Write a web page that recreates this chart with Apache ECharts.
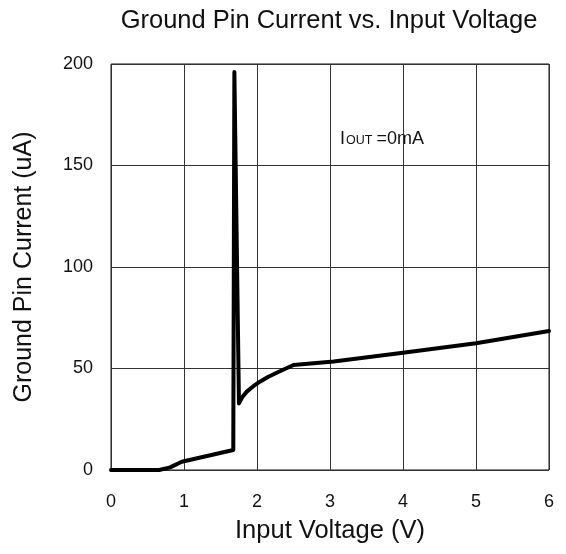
<!DOCTYPE html>
<html><head><meta charset="utf-8">
<script src="https://cdn.jsdelivr.net/npm/echarts@6/dist/echarts.min.js"></script>
<style>html,body{margin:0;padding:0;background:#fff}#c{width:566px;height:554px}</style>
</head><body><div id="c"></div>
<script>
const voltage = [0, 0.66, 0.81, 0.97, 1.675, 1.69, 1.753, 1.80, 1.86, 1.95, 2.04, 2.15, 2.27, 2.5, 3.05, 4.0, 5.0, 6.0];
const current = [0, 0, 1.3, 4.1, 9.85, 196, 32.8, 36.0, 38.6, 41.3, 43.5, 45.8, 47.9, 51.7, 53.4, 57.8, 62.4, 68.5];
const xTicks = [0, 1, 2, 3, 4, 5, 6];
const yTicks = [0, 50, 100, 150, 200];

const chart = echarts.init(document.getElementById('c'), null, {renderer: 'canvas'});
const font = 'Liberation Sans, Arial, sans-serif';
chart.setOption({
  animation: false,
  backgroundColor: '#fff',
  title: {
    text: 'Ground Pin Current vs. Input Voltage',
    left: 324, top: 3, textAlign: 'center',
    textStyle: {fontFamily: font, fontSize: 25.5, fontWeight: 'normal', color: '#111'}
  },
  grid: {left: 111, right: 17, top: 64, bottom: 84, show: true, borderColor: '#111', borderWidth: 1},
  xAxis: {
    type: 'value', min: xTicks[0], max: xTicks[xTicks.length - 1], interval: 1,
    name: 'Input Voltage (V)', nameLocation: 'middle', nameGap: 48,
    nameTextStyle: {fontFamily: font, fontSize: 25.5, color: '#111'},
    axisLine: {show: false}, axisTick: {show: false},
    axisLabel: {fontFamily: font, fontSize: 18, color: '#111', margin: 23},
    splitLine: {show: true, lineStyle: {color: '#333', width: 1}}
  },
  yAxis: {
    type: 'value', min: yTicks[0], max: yTicks[yTicks.length - 1], interval: 50,
    name: 'Ground Pin Current (uA)', nameLocation: 'middle', nameGap: 74,
    nameTextStyle: {fontFamily: font, fontSize: 25, color: '#111'},
    axisLine: {show: false}, axisTick: {show: false},
    axisLabel: {fontFamily: font, fontSize: 18, color: '#111', margin: 18},
    splitLine: {show: true, lineStyle: {color: '#333', width: 1}}
  },
  graphic: [{
    type: 'text', left: 340, top: 130,
    style: {
      text: '{a|I}{b|OUT}{c|=0mA}',
      rich: {
        a: {fontFamily: font, fontSize: 18, fill: '#111', verticalAlign: 'bottom'},
        b: {fontFamily: font, fontSize: 12.5, fill: '#111', verticalAlign: 'bottom', padding: [0,0,1,1]},
        c: {fontFamily: font, fontSize: 18, fill: '#111', verticalAlign: 'bottom', padding: [0,0,0,4]}
      },
      fill: '#111'
    }
  }],
  series: [{
    type: 'line', data: voltage.map((v, i) => [v, current[i]]),
    showSymbol: false, symbol: 'none',
    lineStyle: {color: '#000', width: 4, join: 'round', cap: 'round'}
  }]
});
</script></body></html>
